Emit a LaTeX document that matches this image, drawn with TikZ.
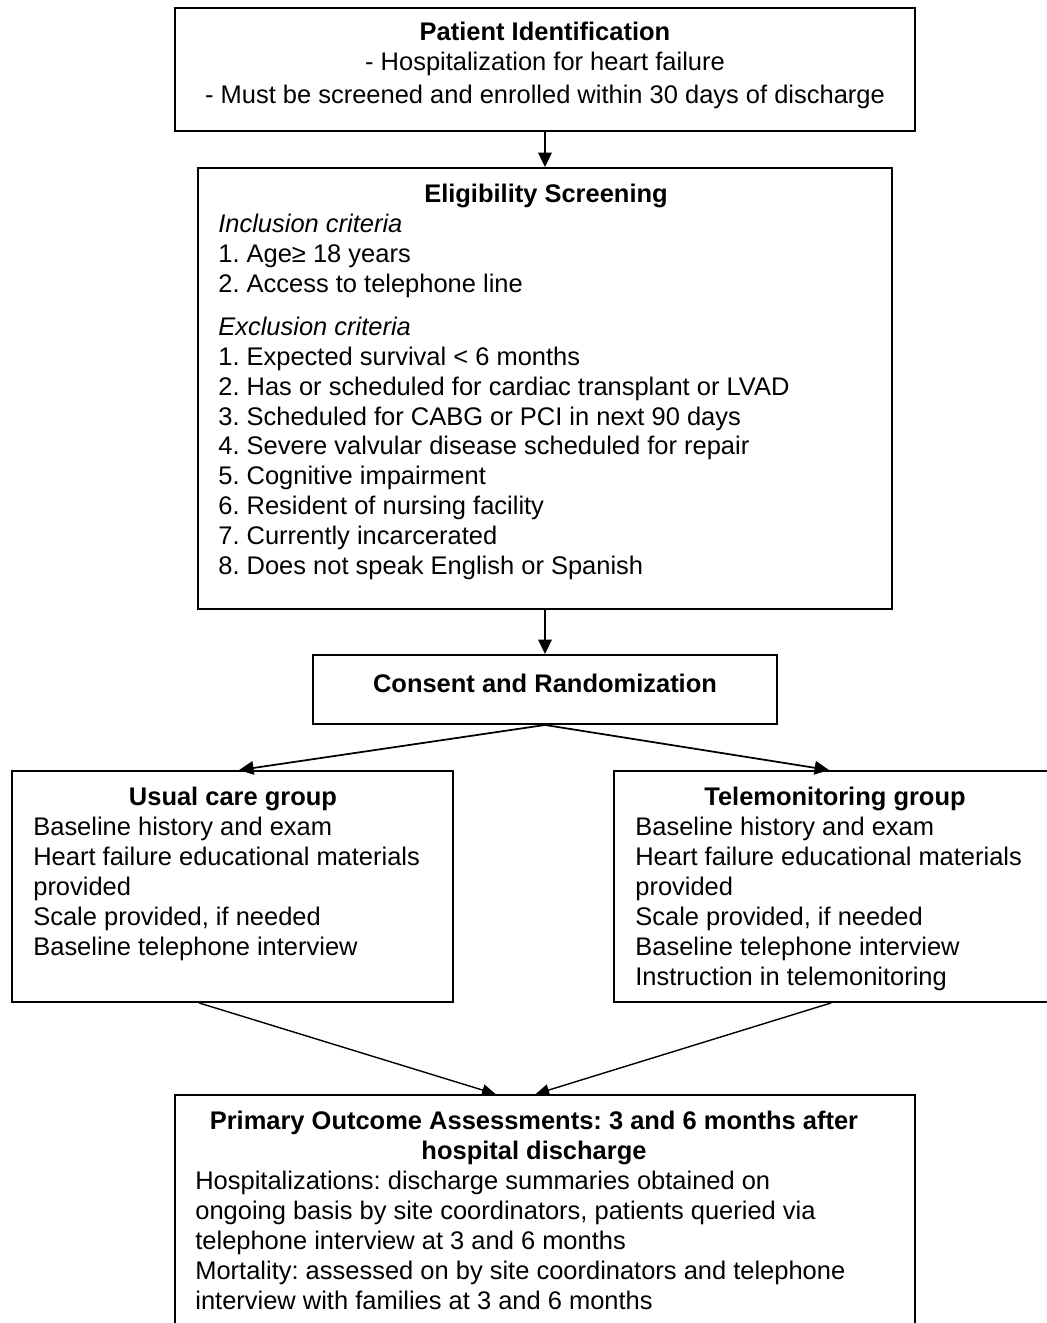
\documentclass[tikz,border=0pt]{standalone}
\usepackage{fontspec}
\setmainfont{Liberation Sans}
\usepackage{tikz}
\usetikzlibrary{arrows.meta,calc}
\frenchspacing
\newcommand\chartfont{\fontsize{14.5}{17}\selectfont}
\tikzset{
  cbox/.style={draw=black,line width=1.1pt,inner sep=0pt},
  hd/.style={anchor=north,inner sep=0pt,align=center,font=\chartfont\bfseries},
  bd/.style={anchor=north west,inner sep=0pt,align=left,font=\chartfont},
  arr/.style={-{Triangle[length=2.9mm,width=2.7mm]},line width=1pt},
  tarr/.style={-{Triangle[length=2.7mm,width=2.3mm]},line width=0.8pt},
}

\begin{document}
\begin{tikzpicture}[x=0.02cm,y=-0.02cm,font=\chartfont]
        \useasboundingbox (0,0) rectangle (1047,1323);
        \clip (0,0) rectangle (1047,1323);
        % boxes
        \node[cbox,minimum width=14.82cm,minimum height=2.46cm] (ident) at (545,69.5) {};
        \node[cbox,minimum width=13.88cm,minimum height=8.82cm] (elig) at (545,388.5) {};
        \node[cbox,minimum width=9.3cm,minimum height=1.38cm] (consent) at (545,689.5) {};
        \node[cbox,minimum width=8.82cm,minimum height=4.62cm] (usual) at (232.5,886.5) {};
        \node[cbox,minimum width=8.92cm,minimum height=4.62cm] (tele) at (837,886.5) {};
        \node[cbox,minimum width=14.82cm,minimum height=5cm] (outcome) at (545,1220) {};
        % texts
        \node[hd,font=\chartfont] (identtxt) at (545,22) {\textbf{Patient Identification}\\
          - Hospitalization for heart failure\\[1.7pt]
          - Must be screened and enrolled within 30 days of discharge};
        \node[hd] (elighd) at (546,184) {Eligibility Screening};
        \node[bd] (eligtxt) at (218,214) {\textit{Inclusion criteria}\\
          1. Age≥ 18 years\\
          2. Access to telephone line\\[7.4pt]
          \textit{Exclusion criteria}\\
          1. Expected survival < 6 months\\
          2. Has or scheduled for cardiac transplant or LVAD\\
          3. Scheduled for CABG or PCI in next 90 days\\
          4. Severe valvular disease scheduled for repair\\
          5. Cognitive impairment\\
          6. Resident of nursing facility\\
          7. Currently incarcerated\\
          8. Does not speak English or Spanish};
        \node[hd] (consenttxt) at (545,674) {Consent and Randomization};
        \node[hd] (usualhd) at (233,787) {Usual care group};
        \node[bd] (usualtxt) at (33,817) {Baseline history and exam\\
          Heart failure educational materials\\
          provided\\
          Scale provided, if needed\\
          Baseline telephone interview};
        \node[hd] (telehd) at (835,787) {Telemonitoring group};
        \node[bd] (teletxt) at (635,817) {Baseline history and exam\\
          Heart failure educational materials\\
          provided\\
          Scale provided, if needed\\
          Baseline telephone interview\\
          Instruction in telemonitoring};
        \node[hd] (outcomehd) at (534,1111) {Primary Outcome Assessments: 3 and 6 months after\\
          hospital discharge};
        \node[bd] (outcometxt) at (195,1171) {Hospitalizations: discharge summaries obtained on\\
          ongoing basis by site coordinators, patients queried via\\
          telephone interview at 3 and 6 months\\
          Mortality: assessed on by site coordinators and telephone\\
          interview with families at 3 and 6 months};
        % arrows
        \draw[arr] (ident) -- (elig);
        \draw[arr] (elig) -- (consent);
        \draw[arr] (consent.south) -- ($(usual.north west)+(228,0)$);
        \draw[arr] (consent.south) -- ($(tele.north west)+(216,0)$);
        \draw[tarr] ($(usual.south west)+(188,0)$) -- ($(outcome.north west)+(322,0)$);
        \draw[tarr] ($(tele.south west)+(218,0)$) -- ($(outcome.north west)+(362,0)$);
      \end{tikzpicture}
\end{document}
